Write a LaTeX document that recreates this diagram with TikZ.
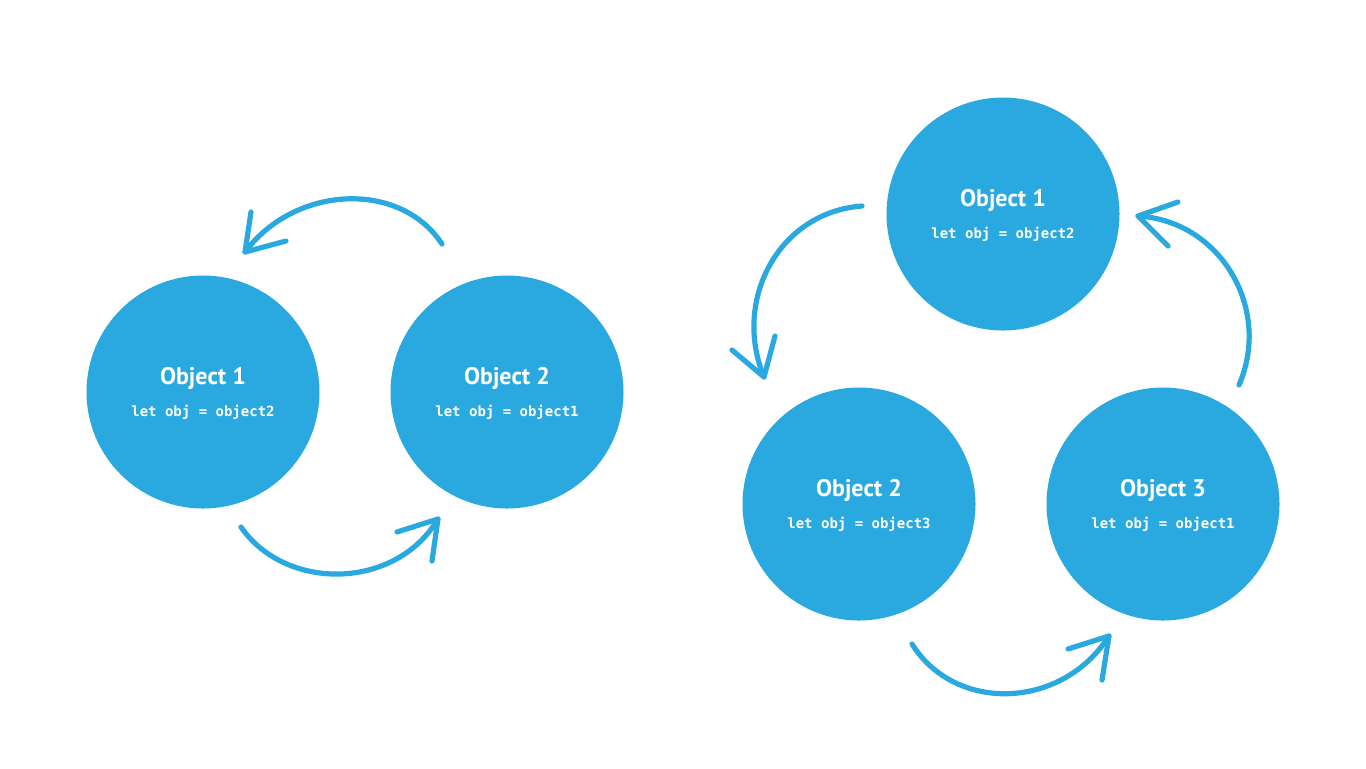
\documentclass[tikz,border=0pt]{standalone}
\usepackage{fontspec}
\setmainfont{PT Sans}
\newfontfamily\codefont{DejaVu Sans Mono}
\definecolor{objblue}{HTML}{29A9E0}
\tikzset{
  obj/.style={circle, fill=objblue, minimum size=116.5pt, inner sep=0pt},
  objtitle/.style={anchor=base, text=white, font=\bfseries\fontsize{12}{14}\selectfont, inner sep=0pt},
  objcode/.style={anchor=base, text=white, font=\codefont\bfseries\fontsize{7}{8}\selectfont, inner sep=0pt},
  flow/.style={draw=objblue, line width=2.6pt, line cap=round, line join=round}
}
\begin{document}
\begin{tikzpicture}[x=0.5pt, y=-0.5pt]
\useasboundingbox (0,0) rectangle (1366,768);
% Left pair
\node[obj] (L1) at (203,392) {};
\node[obj] (L2) at (507,392) {};
\node[objtitle] (L1t) at ([yshift=3.7pt]L1.center) {Object 1};
\node[objcode] (L1c) at ([yshift=-12.3pt]L1.center) {let obj = object2};
\node[objtitle] (L2t) at ([yshift=3.7pt]L2.center) {Object 2};
\node[objcode] (L2c) at ([yshift=-12.3pt]L2.center) {let obj = object1};
% Right triple
\node[obj] (R1) at (1003,214) {};
\node[obj] (R2) at (859,504) {};
\node[obj] (R3) at (1163,504) {};
\node[objtitle] (R1t) at ([yshift=3.7pt]R1.center) {Object 1};
\node[objcode] (R1c) at ([yshift=-12.3pt]R1.center) {let obj = object2};
\node[objtitle] (R2t) at ([yshift=3.7pt]R2.center) {Object 2};
\node[objcode] (R2c) at ([yshift=-12.3pt]R2.center) {let obj = object3};
\node[objtitle] (R3t) at ([yshift=3.7pt]R3.center) {Object 3};
\node[objcode] (R3c) at ([yshift=-12.3pt]R3.center) {let obj = object1};
% Arrow coordinates
\coordinate (a1s) at (442,244); \coordinate (a1t) at (245,252);
\coordinate (a1h1) at (251,212); \coordinate (a1h2) at (286,241);
\coordinate (a2s) at (241,527); \coordinate (a2t) at (438,519);
\coordinate (a2h1) at (397,532); \coordinate (a2h2) at (432,561);
\coordinate (a3s) at (862,206); \coordinate (a3t) at (764,377);
\coordinate (a3h1) at (732,350); \coordinate (a3h2) at (775,336);
\coordinate (a4s) at (1239,385); \coordinate (a4t) at (1138,216);
\coordinate (a4h1) at (1178,202); \coordinate (a4h2) at (1168,246);
\coordinate (a5s) at (912,644); \coordinate (a5t) at (1109,636);
\coordinate (a5h1) at (1068,649); \coordinate (a5h2) at (1102,680);
% Arrows
\draw[flow] (a1s) .. controls (400,180) and (295,185) .. (a1t);
\draw[flow] (a1h1) -- (a1t) -- (a1h2);
\draw[flow] (a2s) .. controls (285,591) and (395,591) .. (a2t);
\draw[flow] (a2h1) -- (a2t) -- (a2h2);
\draw[flow] (a3s) .. controls (779,212) and (732,300) .. (a3t);
\draw[flow] (a3h1) -- (a3t) -- (a3h2);
\draw[flow] (a4s) .. controls (1272,309) and (1221,221) .. (a4t);
\draw[flow] (a4h1) -- (a4t) -- (a4h2);
\draw[flow] (a5s) .. controls (955,713) and (1062,710) .. (a5t);
\draw[flow] (a5h1) -- (a5t) -- (a5h2);
\end{tikzpicture}
\end{document}
